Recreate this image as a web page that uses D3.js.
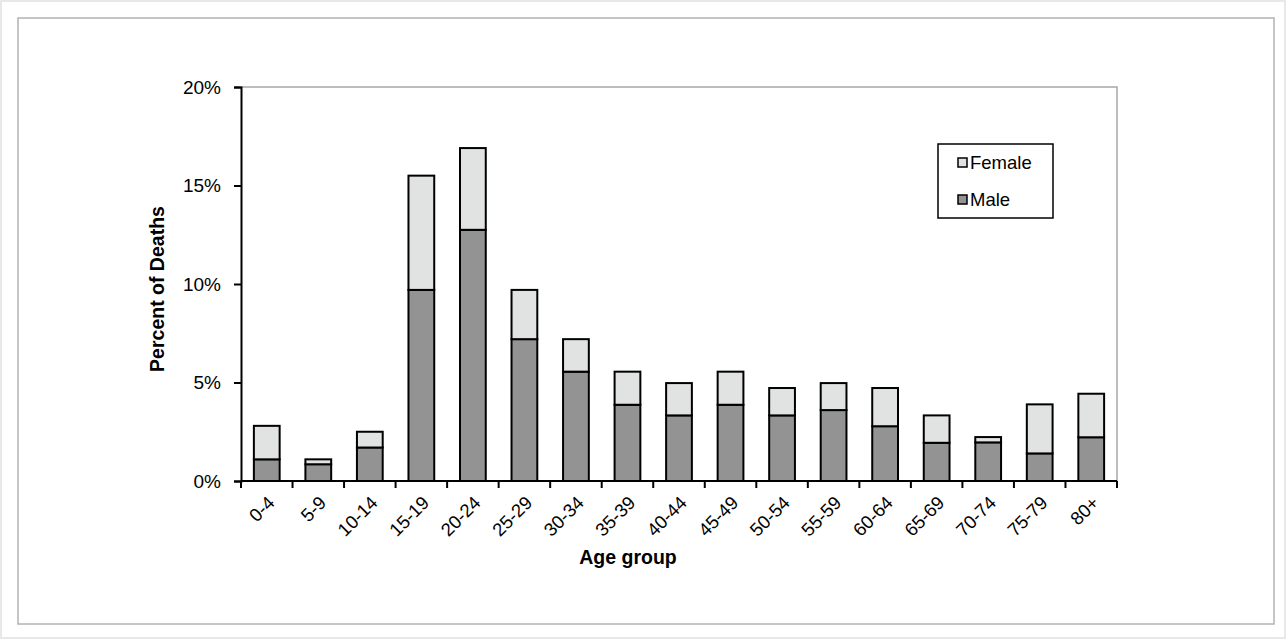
<!DOCTYPE html>
<html>

<head>
    <meta charset="utf-8">
    <script src="https://d3js.org/d3.v7.min.js"></script>
    <style>
        body {
            margin: 0;
            background: white;
            font-family: "Liberation Sans", Arial, sans-serif;
        }
    </style>
</head>

<body>
    <script type="text/javascript">
        // data (percent of deaths)
        var ageGroups = ["0-4", "5-9", "10-14", "15-19", "20-24", "25-29", "30-34", "35-39", "40-44",
            "45-49", "50-54", "55-59", "60-64", "65-69", "70-74", "75-79", "80+"];
        var male = [1.1, 0.85, 1.7, 9.7, 12.75, 7.2, 5.55, 3.87, 3.33, 3.87, 3.33, 3.6, 2.78, 1.94, 1.96, 1.4, 2.22];
        var female = [1.7, 0.25, 0.8, 5.8, 4.15, 2.5, 1.65, 1.68, 1.64, 1.68, 1.39, 1.37, 1.94, 1.39, 0.27, 2.49, 2.21];
        var yTicks = [0, 5, 10, 15, 20];
        var seriesNames = ["Female", "Male"];

        var W = 1286, H = 639;
        var plotLeft = 241, plotRight = 1117, plotTop = 87, plotBottom = 481;
        var colors = { Male: "#939393", Female: "#e1e2e2" };

        var svg = d3.select("body").append("svg")
            .attr("width", W)
            .attr("height", H);

        // frames
        svg.append("rect")
            .attr("x", 1).attr("y", 1).attr("width", W - 2).attr("height", H - 2)
            .attr("fill", "none").attr("stroke", "#e8e8e8").attr("stroke-width", 2);
        svg.append("rect")
            .attr("x", 18).attr("y", 18).attr("width", 1256).attr("height", 606)
            .attr("fill", "white").attr("stroke", "#b3b3b3").attr("stroke-width", 1.5);

        var x = d3.scaleBand().domain(ageGroups).range([plotLeft, plotRight]).paddingInner(0.5).paddingOuter(0.25);
        var y = d3.scaleLinear().domain([0, 20]).range([plotBottom, plotTop]);

        // plot area border (top and right)
        svg.append("path")
            .attr("d", "M" + plotLeft + "," + plotTop + "H" + plotRight + "V" + plotBottom)
            .attr("fill", "none").attr("stroke", "#a6a6a6").attr("stroke-width", 1.5);

        // stacked bars
        var rows = ageGroups.map(function(g, i) {
            return { group: g, Male: male[i], Female: female[i] };
        });
        var stack = d3.stack().keys(["Male", "Female"])(rows);

        svg.selectAll("g.series")
            .data(stack)
            .enter().append("g")
            .attr("class", "series")
            .attr("fill", function(d) { return colors[d.key]; })
            .selectAll("rect")
            .data(function(d) { return d; })
            .enter().append("rect")
            .attr("x", function(d) { return x(d.data.group); })
            .attr("y", function(d) { return y(d[1]); })
            .attr("width", x.bandwidth())
            .attr("height", function(d) { return y(d[0]) - y(d[1]); })
            .attr("stroke", "black")
            .attr("stroke-width", 2);

        // y axis
        var yAxis = d3.axisLeft(y).tickValues(yTicks)
            .tickFormat(function(d) { return d + "%"; })
            .tickSize(7).tickPadding(13);
        var gy = svg.append("g").attr("transform", "translate(" + plotLeft + ",0)").call(yAxis);
        gy.select(".domain").attr("stroke", "black").attr("stroke-width", 2);
        gy.selectAll(".tick line").attr("stroke", "black").attr("stroke-width", 2);
        gy.selectAll(".tick text")
            .style("font-family", "Liberation Sans, Arial, sans-serif")
            .style("font-size", "19px").attr("fill", "black");

        // x axis, ticks between categories
        var step = x.step();
        var xTickPos = d3.range(ageGroups.length + 1).map(function(i) { return plotLeft + i * step; });
        svg.append("line")
            .attr("x1", plotLeft).attr("x2", plotRight).attr("y1", plotBottom).attr("y2", plotBottom)
            .attr("stroke", "black").attr("stroke-width", 2);
        svg.selectAll("line.xtick")
            .data(xTickPos)
            .enter().append("line")
            .attr("class", "xtick")
            .attr("x1", function(d) { return d; }).attr("x2", function(d) { return d; })
            .attr("y1", plotBottom).attr("y2", plotBottom + 7)
            .attr("stroke", "black").attr("stroke-width", 2);

        svg.selectAll("text.xlab")
            .data(ageGroups)
            .enter().append("text")
            .attr("class", "xlab")
            .attr("text-anchor", "end")
            .attr("transform", function(d) {
                return "translate(" + (x(d) + x.bandwidth() / 2 + 9) + "," + (plotBottom + 23) + ") rotate(-45)";
            })
            .style("font-size", "18.5px")
            .text(function(d) { return d; });

        // axis titles
        svg.append("text")
            .attr("x", 628).attr("y", 564)
            .attr("text-anchor", "middle")
            .style("font-size", "19.5px").style("font-weight", "bold")
            .text("Age group");
        svg.append("text")
            .attr("transform", "translate(164,289) rotate(-90)")
            .attr("text-anchor", "middle")
            .style("font-size", "19.5px").style("font-weight", "bold")
            .text("Percent of Deaths");

        // legend
        var legend = svg.append("g");
        legend.append("rect")
            .attr("x", 938).attr("y", 144).attr("width", 115).attr("height", 74)
            .attr("fill", "white").attr("stroke", "black").attr("stroke-width", 1.5);
        var items = legend.selectAll("g.item")
            .data(seriesNames)
            .enter().append("g")
            .attr("class", "item")
            .attr("transform", function(d, i) { return "translate(958," + (158 + i * 37) + ")"; });
        items.append("rect")
            .attr("width", 9).attr("height", 9)
            .attr("fill", function(d) { return colors[d]; })
            .attr("stroke", "black").attr("stroke-width", 1.5);
        items.append("text")
            .attr("x", 12).attr("y", 11)
            .style("font-size", "18.5px")
            .text(function(d) { return d; });
    </script>
</body>

</html>
